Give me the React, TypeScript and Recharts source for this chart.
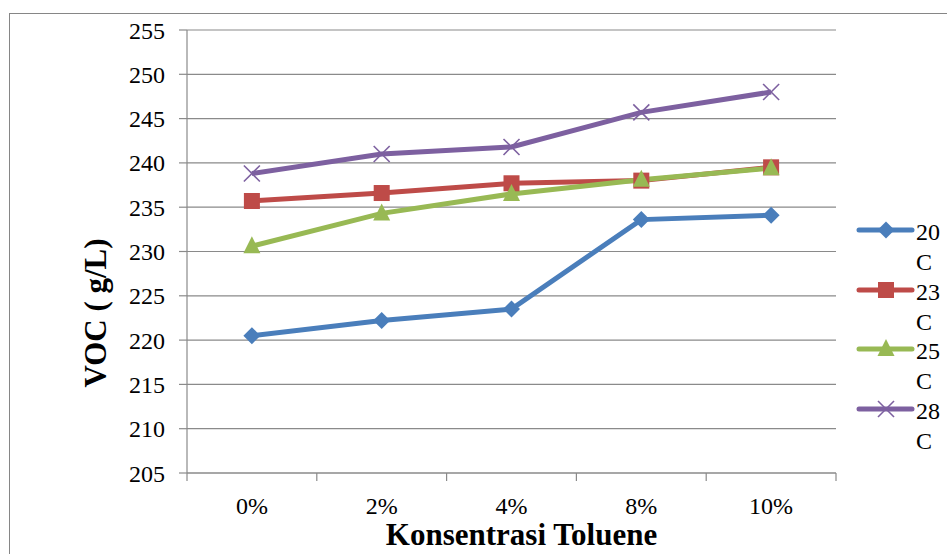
import React from 'react'
import { LineChart, Line, XAxis, YAxis, CartesianGrid, Legend } from 'recharts'

const categories = ['0%', '2%', '4%', '8%', '10%']
const t20 = [220.5, 222.2, 223.5, 233.6, 234.1]
const t23 = [235.7, 236.6, 237.7, 238.0, 239.5]
const t25 = [230.6, 234.3, 236.5, 238.1, 239.4]
const t28 = [238.8, 241.0, 241.8, 245.7, 248.0]
const yTicks = [205, 210, 215, 220, 225, 230, 235, 240, 245, 250, 255]

const data = categories.map((c, i) => ({
	name: c,
	t20: t20[i],
	t23: t23[i],
	t25: t25[i],
	t28: t28[i],
}))

const SERIES = [
	{ key: 't20', name: '20 C', color: '#4A7EBB', shape: 'diamond' },
	{ key: 't23', name: '23 C', color: '#BE4B48', shape: 'square' },
	{ key: 't25', name: '25 C', color: '#98B954', shape: 'triangle' },
	{ key: 't28', name: '28 C', color: '#7D60A0', shape: 'cross' },
]

const FONT = '"Liberation Serif", "Times New Roman", serif'
const GRID = '#8a8a8a'
const PLOT_W = 649
const BAND = PLOT_W / categories.length

const Marker = ({ cx, cy, shape, color }: any) => {
	if (cx == null || cy == null) return null
	if (shape === 'diamond')
		return <polygon points={`${cx},${cy - 8.5} ${cx + 8.5},${cy} ${cx},${cy + 8.5} ${cx - 8.5},${cy}`} fill={color} />
	if (shape === 'square')
		return <rect x={cx - 8} y={cy - 8} width={16} height={16} fill={color} />
	if (shape === 'triangle')
		return <polygon points={`${cx},${cy - 10} ${cx + 8.5},${cy + 7} ${cx - 8.5},${cy + 7}`} fill={color} />
	return (
		<g stroke={color} strokeWidth={1.6}>
			<line x1={cx - 8} y1={cy - 8} x2={cx + 8} y2={cy + 8} />
			<line x1={cx - 8} y1={cy + 8} x2={cx + 8} y2={cy - 8} />
		</g>
	)
}

// category ticks sit on the band boundaries, labels at the centres
const XTick = ({ x, y, payload, index }: any) => {
	const axisY = y - 24
	return (
		<g>
			<line x1={x - BAND / 2} y1={axisY} x2={x - BAND / 2} y2={axisY + 8} stroke={GRID} strokeWidth={1.2} />
			{index === categories.length - 1 && (
				<line x1={x + BAND / 2} y1={axisY} x2={x + BAND / 2} y2={axisY + 8} stroke={GRID} strokeWidth={1.2} />
			)}
			<text x={x} y={y} dy="0.71em" textAnchor="middle" fill="#000" fontSize={24} style={{ fontFamily: FONT }}>
				{payload.value}
			</text>
		</g>
	)
}

const YTick = ({ x, y, payload }: any) => (
	<text x={x} y={y} dy="0.355em" textAnchor="end" fill="#000" fontSize={24} style={{ fontFamily: FONT }}>
		{payload.value}
	</text>
)

const LegendBox = () => (
	<div style={{ fontFamily: FONT, fontSize: 24, color: '#000' }}>
		{SERIES.map((s) => (
			<div key={s.key} style={{ display: 'flex', height: 59.5, alignItems: 'flex-start' }}>
				<svg width={60} height={30} style={{ flex: 'none' }}>
					<line x1={3} y1={15} x2={56} y2={15} stroke={s.color} strokeWidth={5} strokeLinecap="round" />
					<Marker cx={30} cy={15} shape={s.shape} color={s.color} />
				</svg>
				<div style={{ width: 28, lineHeight: '30px', marginTop: 2 }}>{s.name}</div>
			</div>
		))}
	</div>
)

export default function App() {
	return (
		<div style={{ position: 'relative', width: 947, height: 554, overflow: 'hidden', background: '#fff' }}>
			<style>{'body{margin:0}'}</style>
			<div
				style={{
					position: 'absolute',
					left: 9,
					top: 13,
					width: 1200,
					height: 1200,
					border: '1px solid #868686',
				}}
			/>
			<LineChart
				width={947}
				height={554}
				data={data}
				margin={{ top: 30, right: 111, bottom: 0, left: 0 }}
				style={{ position: 'absolute', left: 0, top: 0 }}>
				<CartesianGrid vertical={false} stroke={GRID} strokeWidth={1.2} />
				<XAxis
					dataKey="name"
					height={81}
					padding={{ left: BAND / 2, right: BAND / 2 }}
					axisLine={{ stroke: GRID, strokeWidth: 1.2 }}
					tickLine={{ stroke: 'none' }}
					tickSize={8}
					tickMargin={16}
					tick={<XTick />}
					interval={0}
					label={(props: any) => {
						const vb = props.viewBox
						return (
							<text
								x={vb.x + vb.width / 2 + 10}
								y={vb.y + 72}
								textAnchor="middle"
								fontWeight="bold"
								fontSize={31}
								fill="#000"
								style={{ fontFamily: FONT }}>
								Konsentrasi Toluene
							</text>
						)
					}}
				/>
				<YAxis
					width={187}
					domain={[205, 255]}
					ticks={yTicks}
					interval={0}
					axisLine={{ stroke: GRID, strokeWidth: 1.2 }}
					tickLine={{ stroke: GRID, strokeWidth: 1.2 }}
					tickSize={8}
					tickMargin={14}
					tick={<YTick />}
					label={() => (
						<text
							x={95}
							y={313}
							transform="rotate(-90 95 313)"
							textAnchor="middle"
							dominantBaseline="central"
							fontWeight="bold"
							fontSize={31}
							fill="#000"
							style={{ fontFamily: FONT }}>
							VOC ( g/L)
						</text>
					)}
				/>
				<Legend
					layout="vertical"
					align="center"
					verticalAlign="middle"
					wrapperStyle={{ left: 856, top: 215, width: 90 }}
					content={() => <LegendBox />}
				/>
				{SERIES.map((s) => (
					<Line
						key={s.key}
						dataKey={s.key}
						name={s.name}
						stroke={s.color}
						strokeWidth={5}
						type="linear"
						isAnimationActive={false}
						dot={(p: any) => <Marker key={`${s.key}-${p.index}`} cx={p.cx} cy={p.cy} shape={s.shape} color={s.color} />}
						activeDot={false}
					/>
				))}
			</LineChart>
		</div>
	)
}
